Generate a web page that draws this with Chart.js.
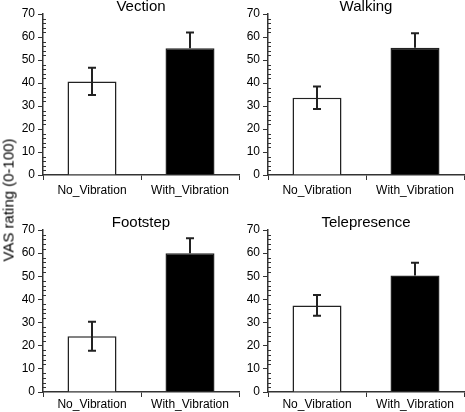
<!DOCTYPE html>
<html>
<head>
<meta charset="utf-8">
<script src="https://cdn.jsdelivr.net/npm/chart.js@4"></script>
<style>
  body { margin: 0; background: #fff; }
  #wrap { position: relative; width: 465px; height: 412px; overflow: hidden; }
  canvas { position: absolute; }
  #ylab {
    position: absolute; left: 8px; top: 200px;
    transform: translate(-50%, -50%) rotate(-90deg);
    font: 15px "Liberation Sans", Arial, sans-serif; white-space: nowrap; color: #000;
  }
</style>
</head>
<body>
<div id="wrap">
  <canvas id="c0" width="240" height="200" style="left:0;top:0"></canvas>
  <canvas id="c1" width="240" height="200" style="left:225px;top:0"></canvas>
  <canvas id="c2" width="240" height="196" style="left:0;top:216px"></canvas>
  <canvas id="c3" width="240" height="196" style="left:225px;top:216px"></canvas>
  <div id="ylab">VAS rating (0-100)</div>
</div>
<script>
// data
const conditions = ['No_Vibration', 'With_Vibration'];
const panels = ['Vection', 'Walking', 'Footstep', 'Telepresence'];
const noVibration = [40.7, 33.6, 24.1, 37.4];
const withVibration = [55.1, 55.3, 59.9, 50.3];
const noVibrationErr = [5.9, 4.9, 6.3, 4.5];
const withVibrationErr = [6.9, 6.3, 6.5, 5.6];
const yTicks = [0, 10, 20, 30, 40, 50, 60, 70];
const barFill = ['#ffffff', '#000000'];

const FONT = '"Liberation Sans", Arial, sans-serif';
const AXIS = '#333';

// error bars + minor ticks on the y axis
const extras = {
    id: 'extras',
    afterDatasetsDraw(chart) {
        const ctx = chart.ctx;
        const y = chart.scales.y;
        const meta = chart.getDatasetMeta(0);
        const errs = chart.options.plugins.extras.errors;
        const vals = chart.data.datasets[0].data;
        ctx.save();
        ctx.strokeStyle = '#222';
        ctx.lineWidth = 2;
        meta.data.forEach((bar, i) => {
            const top = y.getPixelForValue(vals[i] + errs[i]);
            // the lower whisker is hidden inside a dark bar
            const bot = barFill[i] === '#000000' ? bar.y : y.getPixelForValue(vals[i] - errs[i]);
            ctx.beginPath();
            ctx.moveTo(bar.x, top); ctx.lineTo(bar.x, bot);
            ctx.moveTo(bar.x - 4, top); ctx.lineTo(bar.x + 4, top);
            if (barFill[i] !== '#000000') { ctx.moveTo(bar.x - 4, bot); ctx.lineTo(bar.x + 4, bot); }
            ctx.stroke();
        });
        ctx.restore();
    },
    afterDraw(chart) {
        const ctx = chart.ctx;
        const y = chart.scales.y;
        ctx.save();
        ctx.strokeStyle = AXIS;
        ctx.lineWidth = 1;
        for (let v = 2; v < 70; v += 2) {
            if (v % 10 === 0) continue;
            const py = Math.round(y.getPixelForValue(v)) + 0.5;
            ctx.beginPath();
            ctx.moveTo(y.right, py); ctx.lineTo(y.right + 3, py);
            ctx.stroke();
        }
        ctx.restore();
    }
};

panels.forEach((name, i) => {
    const bottom = i >= 2;
    new Chart(document.getElementById('c' + i), {
        type: 'bar',
        data: {
            labels: conditions,
            datasets: [{
                data: [noVibration[i], withVibration[i]],
                backgroundColor: barFill,
                borderColor: '#222',
                borderWidth: 1.5,
                barPercentage: 0.5,
                categoryPercentage: 1
            }]
        },
        options: {
            responsive: false,
            animation: false,
            layout: { padding: { left: 0, right: 1, top: 0, bottom: 0 } },
            plugins: {
                legend: { display: false },
                tooltip: { enabled: false },
                title: {
                    display: true,
                    text: name,
                    fullSize: false,
                    color: '#000',
                    font: { family: FONT, size: 15, weight: 'normal', lineHeight: 14 / 15 },
                    padding: 0
                },
                extras: { errors: [noVibrationErr[i], withVibrationErr[i]] }
            },
            scales: {
                x: {
                    afterFit(s) { s.height = bottom ? 20 : 25; },
                    grid: { offset: true, drawOnChartArea: false, tickLength: 5, color: AXIS, lineWidth: 1 },
                    border: { display: true, color: AXIS, width: 1.5 },
                    ticks: { color: '#000', font: { family: FONT, size: 12 }, padding: bottom ? 0 : 3, maxRotation: 0 }
                },
                y: {
                    min: 0,
                    max: 70,
                    afterFit(s) { s.width = 43; },
                    afterBuildTicks(s) { s.ticks = yTicks.map(v => ({ value: v })); },
                    grid: { drawOnChartArea: false, tickLength: 5, color: AXIS, lineWidth: 1 },
                    border: { display: true, color: AXIS, width: 1.5 },
                    ticks: { color: '#000', font: { family: FONT, size: 12 }, padding: 3 }
                }
            }
        },
        plugins: [extras]
    });
});
</script>
</body>
</html>
